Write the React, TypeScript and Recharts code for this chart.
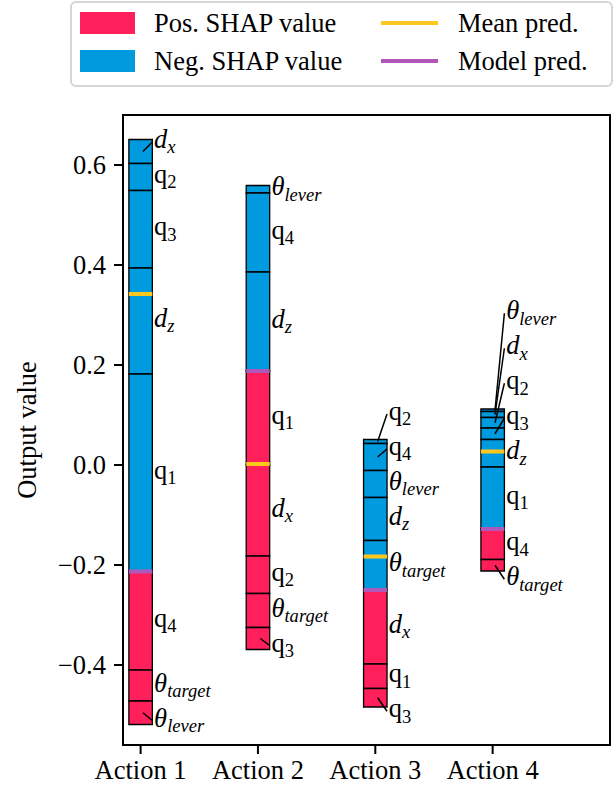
import React from "react";
import {
  ComposedChart,
  XAxis,
  YAxis,
  ReferenceArea,
  ReferenceLine,
  Scatter,
} from "recharts";

const actions = ["Action 1", "Action 2", "Action 3", "Action 4"];
const meanPred = [0.342, 0.002, -0.183, 0.027];
const modelPred = [-0.213, 0.188, -0.25, -0.128];

// negative SHAP values (blue), from the top of the bar down to the model prediction
const negFeatures = [
  ["dx", "q2", "q3", "dz", "q1"],
  ["tl", "q4", "dz"],
  ["q2", "q4", "tl", "dz", "tt"],
  ["tl", "dx", "q2", "q3", "dz", "q1"],
];
const negValues = [
  [0.048, 0.054, 0.155, 0.212, 0.395],
  [0.015, 0.158, 0.198],
  [0.008, 0.054, 0.054, 0.086, 0.099],
  [0.005, 0.012, 0.021, 0.023, 0.055, 0.124],
];

// positive SHAP values (red), from the model prediction downwards
const posFeatures = [
  ["q4", "tt", "tl"],
  ["q1", "dx", "q2", "tt", "q3"],
  ["dx", "q1", "q3"],
  ["q4", "tt"],
];
const posValues = [
  [0.197, 0.062, 0.047],
  [0.188, 0.182, 0.075, 0.068, 0.044],
  [0.148, 0.049, 0.037],
  [0.061, 0.023],
];

const yTicks = [-0.4, -0.2, 0, 0.2, 0.4, 0.6];

const RED = "#FF1F5B";
const BLUE = "#009ADE";
const YELLOW = "#FFC61E";
const PURPLE = "#AF58BA";
const FONT = "'Liberation Serif', 'Times New Roman', serif";
const FS = 26.5;

const HALF = 0.1; // half bar width in category units
const GAP = 0.07; // min vertical spacing between feature labels

type Seg = { action: number; feature: string; top: number; bottom: number; color: string };

const segments: Seg[] = [];
actions.forEach((_, i) => {
  let y = modelPred[i] + negValues[i].reduce((a, b) => a + b, 0);
  negFeatures[i].forEach((f, k) => {
    segments.push({ action: i, feature: f, top: y, bottom: y - negValues[i][k], color: BLUE });
    y -= negValues[i][k];
  });
  y = modelPred[i];
  posFeatures[i].forEach((f, k) => {
    segments.push({ action: i, feature: f, top: y, bottom: y - posValues[i][k], color: RED });
    y -= posValues[i][k];
  });
});

// spread labels so they don't overlap: keep the biggest segment's label fixed,
// push the ones above it up and the ones below it down
type Lab = { x: number; y: number; mid: number; feature: string; action: number };
const labels: Lab[] = [];
actions.forEach((_, i) => {
  const segs = segments.filter((s) => s.action === i);
  const mids = segs.map((s) => (s.top + s.bottom) / 2);
  const pos = mids.slice();
  let anchor = 0;
  segs.forEach((s, k) => {
    if (s.top - s.bottom > segs[anchor].top - segs[anchor].bottom) anchor = k;
  });
  for (let k = anchor - 1; k >= 0; k--) pos[k] = Math.max(mids[k], pos[k + 1] + GAP);
  for (let k = anchor + 1; k < segs.length; k++) pos[k] = Math.min(mids[k], pos[k - 1] - GAP);
  segs.forEach((s, k) =>
    labels.push({ x: i + 0.115, y: pos[k], mid: mids[k], feature: s.feature, action: i })
  );
});

const featureText = (f: string) => {
  if (f === "tl") return { base: "θ", sub: "lever", italic: true };
  if (f === "tt") return { base: "θ", sub: "target", italic: true };
  if (f[0] === "d") return { base: "d", sub: f[1], italic: true };
  return { base: "q", sub: f[1], italic: false };
};

const FeatureLabel = (props: any) => {
  const { cx, cy, payload } = props;
  if (cx == null || cy == null) return null;
  const t = featureText(payload.feature);
  return (
    <text
      x={cx}
      y={cy - 3}
      fontFamily={FONT}
      fontSize={FS}
      fontStyle={t.italic ? "italic" : "normal"}
      dominantBaseline="central"
      fill="#000"
    >
      {t.base}
      <tspan fontSize={FS * 0.7} dy={FS * 0.28}>
        {t.sub}
      </tspan>
    </text>
  );
};

const fmt = (v: number) => v.toFixed(1).replace("-", "\u2212");

const Legend = () => (
  <div
    style={{
      position: "absolute",
      left: 70,
      top: 1,
      width: 543,
      height: 86,
      boxSizing: "border-box",
      border: "2px solid #d6d6d6",
      borderRadius: 6,
      background: "#fff",
    }}
  >
    <svg width={539} height={82} style={{ position: "absolute", left: 0, top: 0 }}>
      <rect x={8} y={9} width={55} height={22} fill={RED} />
      <rect x={8} y={47} width={55} height={22} fill={BLUE} />
      <line x1={309} x2={366} y1={20} y2={20} stroke={YELLOW} strokeWidth={4} />
      <line x1={309} x2={366} y1={58} y2={58} stroke={PURPLE} strokeWidth={4} />
      <g fontFamily={FONT} fontSize={FS} fill="#000" dominantBaseline="central">
        <text x={82} y={20}>Pos. SHAP value</text>
        <text x={82} y={58}>Neg. SHAP value</text>
        <text x={386} y={20}>Mean pred.</text>
        <text x={386} y={58}>Model pred.</text>
      </g>
    </svg>
  </div>
);

export default function App() {
  return (
    <div style={{ position: "absolute", left: 0, top: 0, width: 616, height: 790, fontFamily: FONT }}>
      <ComposedChart
        width={616}
        height={790}
        data={labels}
        margin={{ top: 115, right: 6, left: 13, bottom: 5 }}
      >
        <XAxis
          type="number"
          dataKey="x"
          domain={[-0.15, 4]}
          ticks={[0, 1, 2, 3]}
          allowDataOverflow
          tickFormatter={(v: number) => actions[v]}
          tick={{ fill: "#000", fontSize: FS, fontFamily: FONT }}
          tickSize={9}
          tickMargin={6}
          height={40}
          stroke="#000"
          strokeWidth={2}
        />
        <YAxis
          type="number"
          dataKey="y"
          domain={[-0.56, 0.7]}
          ticks={yTicks}
          allowDataOverflow
          tickFormatter={fmt}
          tick={{ fill: "#000", fontSize: FS, fontFamily: FONT }}
          tickSize={9}
          tickMargin={8}
          width={110}
          stroke="#000"
          strokeWidth={2}
          label={{
            value: "Output value",
            angle: -90,
            position: "insideLeft",
            offset: 14,
            style: { fill: "#000", fontSize: FS, fontFamily: FONT, textAnchor: "middle" },
          }}
        />
        <ReferenceArea x1={-0.15} x2={4} y1={-0.56} y2={0.7} fill="none" stroke="#000" strokeWidth={2} />
        {segments.map((s, k) => (
          <ReferenceArea
            key={`seg-${k}`}
            x1={s.action - HALF}
            x2={s.action + HALF}
            y1={s.bottom}
            y2={s.top}
            fill={s.color}
            fillOpacity={1}
            stroke="#000"
            strokeWidth={1.3}
          />
        ))}
        {actions.map((_, i) => (
          <ReferenceLine
            key={`mean-${i}`}
            segment={[
              { x: i - HALF, y: meanPred[i] },
              { x: i + HALF, y: meanPred[i] },
            ]}
            stroke={YELLOW}
            strokeWidth={4}
          />
        ))}
        {actions.map((_, i) => (
          <ReferenceLine
            key={`model-${i}`}
            segment={[
              { x: i - HALF, y: modelPred[i] },
              { x: i + HALF, y: modelPred[i] },
            ]}
            stroke={PURPLE}
            strokeWidth={4}
          />
        ))}
        {labels
          .filter((l) => Math.abs(l.y - l.mid) > 0.005)
          .map((l, k) => (
            <ReferenceLine
              key={`lead-${k}`}
              segment={[
                { x: l.action + 0.02, y: l.mid },
                { x: l.action + 0.1, y: l.y },
              ]}
              stroke="#000"
              strokeWidth={1.5}
            />
          ))}
        <Scatter data={labels} dataKey="y" shape={<FeatureLabel />} isAnimationActive={false} />
      </ComposedChart>
      <Legend />
    </div>
  );
}
